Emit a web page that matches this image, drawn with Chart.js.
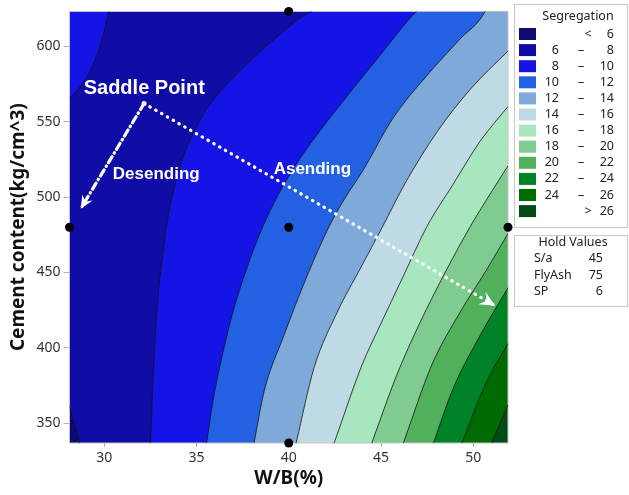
<!DOCTYPE html>
<html>
<head>
<meta charset="utf-8">
<script src="https://cdn.jsdelivr.net/npm/chart.js@4.4.1/dist/chart.umd.min.js"></script>
<style>
  html, body { margin: 0; padding: 0; background: #fff; }
  #wrap { width: 629px; height: 495px; }
</style>
</head>
<body>
<div id="wrap"><canvas id="myChart" width="629" height="495"></canvas></div>
<script>
// axis ranges and ticks
const xRange = [28.12, 51.88];
const yRange = [337, 623];
const xTicks = [30, 35, 40, 45, 50];
const yTicks = [350, 400, 450, 500, 550, 600];

// legend: Segregation levels
const levelLow = ["", "6", "8", "10", "12", "14", "16", "18", "20", "22", "24", ""];
const levelSep = ["<", "–", "–", "–", "–", "–", "–", "–", "–", "–", "–", ">"];
const levelHigh = ["6", "8", "10", "12", "14", "16", "18", "20", "22", "24", "26", "26"];
const levelColors = [
  "#0b0b72", "#100ca6", "#1414e4", "#2461e2", "#7fa9d8", "#bedbe5",
  "#a7e6bf", "#80cc90", "#51b05b", "#008226", "#006b00", "#004b16",
];

// hold values
const holdNames = ["S/a", "FlyAsh", "SP"];
const holdValues = ["45", "75", "6"];

// contour boundaries, [W/B, cement]
const contour6 = [[28.12, 361.4], [28.67, 337]];
const contour8Corner = [[28.12, 565.4], [29.12, 580.7], [29.84, 602.5], [30.24, 623]];
const contour8 = [[32.51, 337], [32.62, 371.7], [32.75, 404.4], [32.94, 437.1], [33.19, 463.3], [33.4, 482.9], [33.73, 502.6], [34.16, 522.2], [34.81, 541.8], [35.74, 561.5], [37.26, 582.4], [39.1, 603.4], [41.21, 623]];
const contour10 = [[35.55, 337], [35.9, 365.1], [36.39, 394.6], [36.98, 424], [37.69, 451.5], [38.5, 477.7], [39.42, 501.3], [40.5, 523.5], [41.81, 545.8], [43.32, 569.3], [45.05, 595.5], [46.93, 623]];
const contour12 = [[38.12, 337], [38.66, 371], [39.74, 408.3], [40.99, 447.6], [42.18, 480.3], [43.05, 499.3], [44.02, 517.6], [45.65, 552.3], [47.49, 580.5], [49.28, 604.7], [50.64, 623]];
const contour14 = [[40.4, 337], [41.37, 386.8], [42.62, 423.5], [43.92, 453.6], [45.06, 479.8], [46.31, 509.2], [48.04, 543.2], [49.83, 571.3], [51.88, 596.8]];
const contour16 = [[42.46, 337], [43.97, 388.7], [44.95, 415], [46.21, 447.6], [47.48, 480.3], [48.92, 508.7], [50.37, 537], [51.88, 560]];
const contour18 = [[44.5, 337], [45.85, 382], [47.12, 417], [48.56, 452], [49.83, 480.3], [50.91, 502], [51.88, 520.7]];
const contour20 = [[46.21, 337], [47.75, 388.7], [49.28, 423.6], [50.73, 452], [51.88, 475.9]];
const contour22 = [[47.84, 337], [48.92, 373.5], [50.37, 408.3], [51.88, 440]];
const contour24 = [[49.38, 337], [50.73, 377.8], [51.88, 403]];
const contour26 = [[51.0, 337], [51.88, 362.5]];

// design points
const designPoints = [[28.12, 480], [40, 623], [40, 480], [51.88, 480], [40, 337]];

// path of steepest ascent / descent
const saddle = [32.16, 562];
const descendTip = [28.73, 492.3];
const ascendTip = [51.18, 428];
const noteText = ["Saddle Point", "Desending", "Asending"];
const noteAt = [[32.17, 571.8], [32.82, 515.2], [41.28, 518.5]];

// closes a band that leaves through the top edge, outside the plot
const overTop = [xRange[1], yRange[1] + 40];

const contourSet = (points, color, fill, order) => ({
  data: points.map(([x, y]) => ({ x, y })),
  backgroundColor: color,
  borderColor: "#151515",
  borderWidth: 0.8,
  fill: fill,
  pointRadius: 0,
  cubicInterpolationMode: "monotone",
  order: order,
});

const arrowSet = (tip, dash) => ({
  data: [saddle, tip].map(([x, y]) => ({ x, y })),
  borderColor: "#ffffff",
  borderWidth: 3.2,
  borderDash: dash,
  borderCapStyle: "round",
  pointRadius: 0,
  fill: false,
  order: 2,
});

const base = contourSet([[xRange[0], yRange[1] + 40], overTop], levelColors[1], "start", 100);
base.borderWidth = 0;

const datasets = [
  base,
  contourSet(contour8Corner, levelColors[2], "end", 99),
  contourSet(contour6, levelColors[0], "start", 98),
  contourSet(contour8.concat([overTop]), levelColors[2], "start", 97),
  contourSet(contour10.concat([overTop]), levelColors[3], "start", 96),
  contourSet(contour12.concat([overTop]), levelColors[4], "start", 95),
  contourSet(contour14, levelColors[5], "start", 94),
  contourSet(contour16, levelColors[6], "start", 93),
  contourSet(contour18, levelColors[7], "start", 92),
  contourSet(contour20, levelColors[8], "start", 91),
  contourSet(contour22, levelColors[9], "start", 90),
  contourSet(contour24, levelColors[10], "start", 89),
  contourSet(contour26, levelColors[11], "start", 88),
  arrowSet(descendTip, [7, 4, 0.5, 4]),
  arrowSet(ascendTip, [0.5, 6.2]),
  {
    data: designPoints.map(([x, y]) => ({ x, y })),
    showLine: false,
    pointRadius: 4.5,
    pointBackgroundColor: "#000",
    pointBorderWidth: 0,
    clip: false,
    order: 0,
  },
];

const drawArrowHead = (ctx, fx, fy, tx, ty, len, half) => {
  const a = Math.atan2(ty - fy, tx - fx);
  const c = Math.cos(a);
  const s = Math.sin(a);
  const bx = tx - len * c;
  const by = ty - len * s;
  ctx.beginPath();
  ctx.moveTo(tx, ty);
  ctx.lineTo(bx - half * s, by + half * c);
  ctx.lineTo(tx - len * 0.65 * c, ty - len * 0.65 * s);
  ctx.lineTo(bx + half * s, by - half * c);
  ctx.closePath();
  ctx.fill();
};

const framePlugin = {
  id: "frame",
  beforeDatasetsDraw(chart) {
    const { ctx, chartArea: a } = chart;
    ctx.save();
    ctx.strokeStyle = "#c4c4c4";
    ctx.lineWidth = 1;
    ctx.strokeRect(a.left, a.top, a.right - a.left, a.bottom - a.top);
    ctx.restore();
  },
};

const notesPlugin = {
  id: "notes",
  afterDatasetsDraw(chart) {
    const { ctx } = chart;
    const sx = chart.scales.x;
    const sy = chart.scales.y;
    const px = (p) => [sx.getPixelForValue(p[0]), sy.getPixelForValue(p[1])];
    const s = px(saddle);
    ctx.save();
    ctx.fillStyle = "#ffffff";
    const d = px(descendTip);
    drawArrowHead(ctx, s[0], s[1], d[0], d[1], 13, 6);
    const u = px(ascendTip);
    drawArrowHead(ctx, s[0], s[1], u[0], u[1], 15, 7);
    ctx.beginPath();
    ctx.arc(s[0], s[1], 2.5, 0, Math.PI * 2);
    ctx.fill();
    ctx.textAlign = "center";
    ctx.textBaseline = "middle";
    noteText.forEach((t, i) => {
      const p = px(noteAt[i]);
      ctx.font = (i === 0 ? "bold 20px" : "bold 17px") + " 'Liberation Sans', Arial, sans-serif";
      ctx.fillText(t, p[0], p[1]);
    });
    ctx.restore();
  },
};

const legendPlugin = {
  id: "sideLegend",
  afterDraw(chart) {
    const { ctx } = chart;
    ctx.save();
    ctx.strokeStyle = "#c8c8c8";
    ctx.lineWidth = 1;
    ctx.strokeRect(514.5, 4.5, 113, 223);
    ctx.strokeRect(514.5, 235.5, 113, 71);
    ctx.fillStyle = "#222";
    ctx.font = "12.5px 'Noto Sans', sans-serif";
    ctx.textBaseline = "middle";
    ctx.textAlign = "center";
    ctx.fillText("Segregation", 578, 16);
    levelColors.forEach((c, i) => {
      const yc = 34 + i * 16.1;
      ctx.fillStyle = c;
      ctx.fillRect(519, yc - 6, 17, 12);
      ctx.fillStyle = "#222";
      ctx.textAlign = "right";
      ctx.fillText(levelLow[i], 559, yc);
      ctx.fillText(levelHigh[i], 614, yc);
      ctx.textAlign = "center";
      ctx.fillText(levelSep[i], levelSep[i] === "–" ? 581 : 588, yc);
    });
    ctx.fillText("Hold Values", 573, 242);
    holdNames.forEach((n, i) => {
      const yc = 258.5 + i * 16.7;
      ctx.textAlign = "left";
      ctx.fillText(n, 534, yc);
      ctx.textAlign = "right";
      ctx.fillText(holdValues[i], 603, yc);
    });
    ctx.restore();
  },
};

const tickFont = { family: "'Noto Sans', sans-serif", size: 14 };
const titleFont = { family: "'Noto Sans', sans-serif", size: 19, weight: "bold" };

const config = {
  type: "line",
  data: { datasets: datasets },
  options: {
    responsive: false,
    animation: false,
    devicePixelRatio: 1,
    layout: { padding: { top: 6, right: 121, left: 0, bottom: 0 } },
    plugins: {
      legend: { display: false },
      tooltip: { enabled: false },
      filler: { drawTime: "beforeDatasetsDraw" },
    },
    scales: {
      x: {
        type: "linear",
        min: xRange[0],
        max: xRange[1],
        afterBuildTicks: (s) => { s.ticks = xTicks.map((v) => ({ value: v })); },
        afterFit: (s) => { s.height = 52; },
        grid: { drawOnChartArea: false, tickLength: 4, color: "#b0b0b0" },
        border: { display: false },
        ticks: { font: tickFont, color: "#333", padding: 3, maxRotation: 0 },
        title: { display: true, text: "W/B(%)", font: titleFont, color: "#111", padding: { top: 0, bottom: 5 } },
      },
      y: {
        type: "linear",
        min: yRange[0],
        max: yRange[1],
        afterBuildTicks: (s) => { s.ticks = yTicks.map((v) => ({ value: v })); },
        afterFit: (s) => { s.width = 69.5; },
        grid: { drawOnChartArea: false, tickLength: 6, color: "#b0b0b0" },
        border: { display: false },
        ticks: { font: tickFont, color: "#333", padding: 3 },
        title: { display: true, text: "Cement content(kg/cm^3)", font: titleFont, color: "#111", padding: { top: 7, bottom: 0 } },
      },
    },
  },
  plugins: [framePlugin, notesPlugin, legendPlugin],
};

new Chart(document.getElementById("myChart"), config);
</script>
</body>
</html>
